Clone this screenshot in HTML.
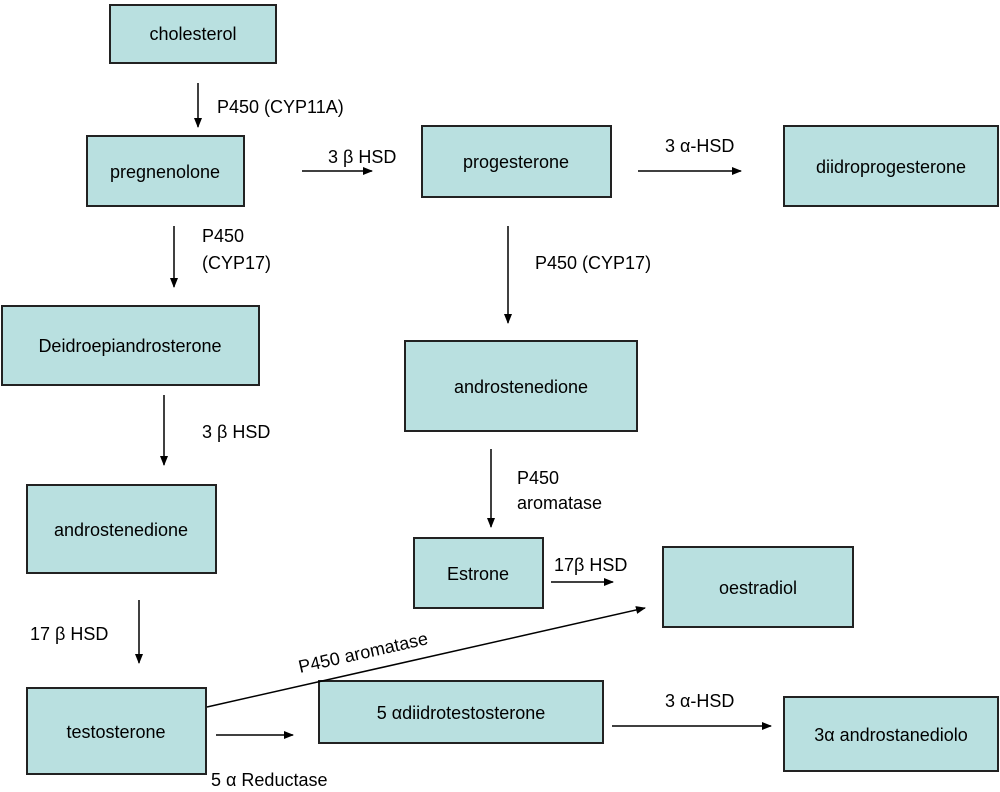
<!DOCTYPE html>
<html><head><meta charset="utf-8"><style>
html,body{margin:0;padding:0;background:#fff}
svg text{font-family:"Liberation Sans",Arial,sans-serif;font-size:18px;fill:#000}
</style></head><body>
<svg width="1000" height="787" viewBox="0 0 1000 787" xmlns="http://www.w3.org/2000/svg">
<defs><marker id="a" markerWidth="10" markerHeight="8" refX="9" refY="4" orient="auto" markerUnits="userSpaceOnUse"><path d="M0,0 L10,4 L0,8 z" fill="#000"/></marker></defs>
<g fill="#b9e0e0" stroke="#222" stroke-width="2">
<rect x="110" y="5" width="166" height="58"/>
<rect x="87" y="136" width="157" height="70"/>
<rect x="422" y="126" width="189" height="71"/>
<rect x="784" y="126" width="214" height="80"/>
<rect x="2" y="306" width="257" height="79"/>
<rect x="405" y="341" width="232" height="90"/>
<rect x="27" y="485" width="189" height="88"/>
<rect x="414" y="538" width="129" height="70"/>
<rect x="663" y="547" width="190" height="80"/>
<rect x="27" y="688" width="179" height="86"/>
<rect x="319" y="681" width="284" height="62"/>
<rect x="784" y="697" width="214" height="74"/>
</g>
<g text-anchor="middle">
<text x="193" y="40">cholesterol</text>
<text x="165" y="178">pregnenolone</text>
<text x="516" y="168">progesterone</text>
<text x="891" y="173">diidroprogesterone</text>
<text x="130" y="352">Deidroepiandrosterone</text>
<text x="521" y="393">androstenedione</text>
<text x="121" y="536">androstenedione</text>
<text x="478" y="580">Estrone</text>
<text x="758" y="594">oestradiol</text>
<text x="116" y="738">testosterone</text>
<text x="461" y="719">5 αdiidrotestosterone</text>
<text x="891" y="741">3α androstanediolo</text>
</g>
<g stroke="#000" stroke-width="1.5" marker-end="url(#a)">
<line x1="198" y1="83" x2="198" y2="127"/>
<line x1="302" y1="171" x2="372" y2="171"/>
<line x1="638" y1="171" x2="741" y2="171"/>
<line x1="174" y1="226" x2="174" y2="287"/>
<line x1="508" y1="226" x2="508" y2="323"/>
<line x1="164" y1="395" x2="164" y2="465"/>
<line x1="491" y1="449" x2="491" y2="527"/>
<line x1="551" y1="582" x2="613" y2="582"/>
<line x1="139" y1="600" x2="139" y2="663"/>
<line x1="207" y1="707" x2="645" y2="608"/>
<line x1="216" y1="735" x2="293" y2="735"/>
<line x1="612" y1="726" x2="771" y2="726"/>
</g>
<text x="217" y="113">P450 (CYP11A)</text>
<text x="328" y="163">3 β HSD</text>
<text x="665" y="152">3 α-HSD</text>
<text x="202" y="242">P450</text>
<text x="202" y="269">(CYP17)</text>
<text x="535" y="269">P450 (CYP17)</text>
<text x="202" y="438">3 β HSD</text>
<text x="517" y="484">P450</text>
<text x="517" y="509">aromatase</text>
<text x="554" y="571">17β HSD</text>
<text x="30" y="640">17 β HSD</text>
<text x="300" y="673" transform="rotate(-12.7 300 673)">P450 aromatase</text>
<text x="211" y="786">5 α Reductase</text>
<text x="665" y="707">3 α-HSD</text>
</svg>
</body></html>
